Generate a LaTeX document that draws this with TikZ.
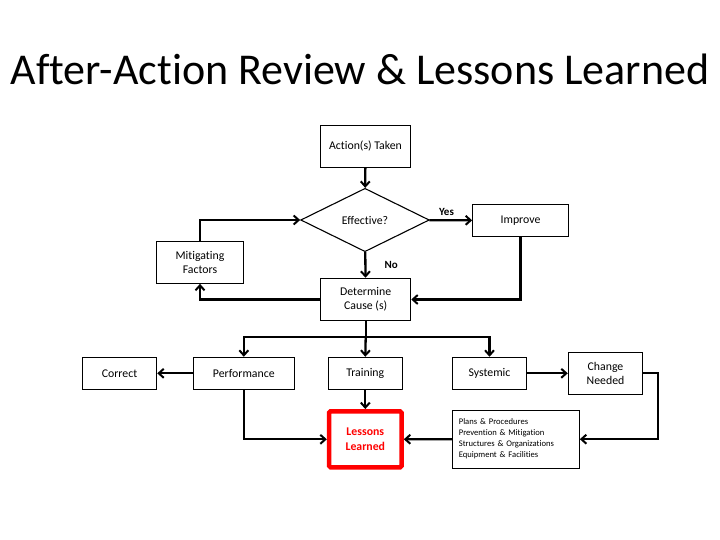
\documentclass[tikz,border=0pt]{standalone}
\usepackage{fontspec}
\setmainfont{Carlito}[Ligatures={NoCommon}]
\usetikzlibrary{arrows.meta,shapes.geometric}

\tikzset{
    box/.style={draw=black, line width=1.1pt, rectangle, inner sep=0pt, align=center,
        font=\fontsize{11.8}{14.5}\selectfont},
    arr/.style={line width=2.3pt, -{Straight Barb[length=5pt,width=9pt,line width=2pt]}},
    lbl/.style={font=\fontsize{11}{13}\selectfont\bfseries, inner sep=1pt}
}

\begin{document}
\begin{tikzpicture}[x=1pt, y=-1pt]
    % 1. Khung trang
    \useasboundingbox (0,0) rectangle (720,540);

    % 2. Tiêu đề
    \node[anchor=base, font=\fontsize{44}{50}\selectfont] (title) at (360,85)
        {After-Action Review \& Lessons Learned};

    % 3. Các hộp phía trên
    \node[box, minimum width=89.6pt, minimum height=41.7pt] (act) at (365.5,146.5) {Action(s) Taken};
    \node[box, diamond, aspect=2, minimum width=128.6pt, minimum height=63.4pt] (eff) at (365,220) {Effective?};
    \node[box, minimum width=95.6pt, minimum height=32.4pt] (imp) at (520.5,220.5) {Improve};
    \node[box, minimum width=86.6pt, minimum height=41.6pt] (mit) at (200,262.5) {Mitigating\\Factors};
    \node[box, minimum width=90pt, minimum height=42.4pt] (det) at (365.7,299.5) {Determine\\Cause (s)};

    % 4. Hàng giữa
    \node[box, minimum width=74.4pt, minimum height=32pt] (cor) at (119.5,373.3) {Correct};
    \node[box, minimum width=101pt, minimum height=32pt] (perf) at (243.8,373.3) {Performance};
    \node[box, minimum width=74pt, minimum height=32pt] (trn) at (365.3,373.3) {Training};
    \node[box, minimum width=74.4pt, minimum height=32pt] (sys) at (489.5,373.3) {Systemic};
    \node[box, minimum width=74.4pt, minimum height=42pt] (chg) at (605.5,373.3) {Change\\Needed};

    % 5. Hàng dưới
    \node[box, draw=red, text=red, line width=4.5pt, rounded corners=1.5pt, font=\fontsize{11.8}{14.5}\selectfont\bfseries,
        minimum width=72.5pt, minimum height=56pt] (les) at (365.3,439.3) {Lessons\\Learned};
    \node[box, align=left, text width=114pt, inner xsep=6.5pt, minimum height=58.3pt,
        font=\fontsize{8.6}{11}\selectfont] (pla) at (515.8,439.2)
        {Plans \& Procedures\\Prevention \& Mitigation\\Structures \& Organizations\\Equipment \& Facilities};

    % 6. Điểm phụ
    \coordinate (br) at (365.7,337.3);
    \coordinate (rt) at (658.3,439.2);

    % 7. Mũi tên
    \draw[arr] (act) -- (eff);
    \draw[arr] (eff) -- node[lbl, above, pos=0.4, yshift=3pt] (yes) {Yes} (imp);
    \draw[arr] (eff) -- node[lbl, right=17pt] (no) {No} (det);
    \draw[arr] (det.west) -| (mit.south);
    \draw[arr] (mit.north) |- (eff.west);
    \draw[arr] (imp.south) |- (det.east);
    \draw[line width=2.3pt] (det.south) -- (br);
    \draw[arr] (br) -| (perf.north);
    \draw[arr] (br) -| (sys.north);
    \draw[arr] (br) -- (trn.north);
    \draw[arr] (perf) -- (cor);
    \draw[arr] (trn) -- (les);
    \draw[arr] (perf.south) |- (les.west);
    \draw[arr] (sys) -- (chg);
    \draw[arr] (chg.east) -| (rt) -- (pla.east);
    \draw[arr] (pla) -- (les);
\end{tikzpicture}
\end{document}
